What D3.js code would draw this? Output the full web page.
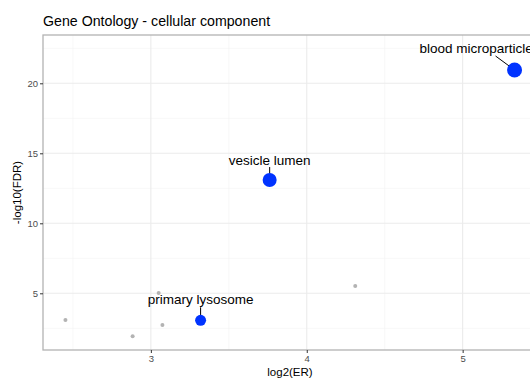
<!DOCTYPE html>
<head>
	<meta charset="utf-8">
	<script src="https://d3js.org/d3.v7.min.js"></script>
	<style>
		body { margin: 0; background: #fff; }
		text { font-family: "Liberation Sans", Arial, sans-serif; }
	</style>
</head>
<body>
<svg width="530" height="378"></svg>
<script>
	// data
	var terms = ['t1', 't2', 't3', 't4', 'primary lysosome', 't6', 'vesicle lumen', 'blood microparticle'];
	var log2ER = [2.452, 2.883, 3.05, 3.074, 3.319, 4.311, 3.762, 5.333];
	var logFDR = [3.09, 1.93, 5.02, 2.74, 3.07, 5.52, 13.09, 20.95];
	var highlighted = [false, false, false, false, true, false, true, true];
	var pointSize = [2, 2, 2, 2, 5.5, 2, 7, 7.5];
	var xTicks = [3, 4, 5];
	var yTicks = [5, 10, 15, 20];

	var margin = {top: 35, right: -7, bottom: 28, left: 43};
	var width = 530 - margin.left - margin.right, height = 378 - margin.top - margin.bottom;

	var svg = d3.select('svg');
	var g = svg.append('g').attr('transform', 'translate(' + margin.left + ',' + margin.top + ')');

	var x = d3.scaleLinear().domain([2.308, 5.477]).range([0, width]);
	var y = d3.scaleLinear().domain([0.95, 23.45]).range([height, 0]);

	/* --------- GRID ---------*/
	var minorX = [2.5, 3.5, 4.5, 5.5], minorY = [2.5, 7.5, 12.5, 17.5, 22.5];
	g.selectAll('line.minx').data(minorX).enter().append('line')
		.attr('x1', x).attr('x2', x).attr('y1', 0).attr('y2', height)
		.attr('stroke', '#f2f2f2').attr('stroke-width', 0.6);
	g.selectAll('line.miny').data(minorY).enter().append('line')
		.attr('y1', y).attr('y2', y).attr('x1', 0).attr('x2', width)
		.attr('stroke', '#f2f2f2').attr('stroke-width', 0.6);
	g.selectAll('line.majx').data(xTicks).enter().append('line')
		.attr('x1', x).attr('x2', x).attr('y1', 0).attr('y2', height)
		.attr('stroke', '#ebebeb').attr('stroke-width', 1.1);
	g.selectAll('line.majy').data(yTicks).enter().append('line')
		.attr('y1', y).attr('y2', y).attr('x1', 0).attr('x2', width)
		.attr('stroke', '#ebebeb').attr('stroke-width', 1.1);

	g.append('rect').attr('width', width).attr('height', height)
		.attr('fill', 'none').attr('stroke', '#b3b3b3').attr('stroke-width', 1.3);

	/* --------- AXES ---------*/
	var xAxis = g.append('g').attr('transform', 'translate(0,' + height + ')')
		.call(d3.axisBottom(x).tickValues(xTicks).tickFormat(d3.format('d')).tickSize(3).tickPadding(2));
	var yAxis = g.append('g')
		.call(d3.axisLeft(y).tickValues(yTicks).tickFormat(d3.format('d')).tickSize(3).tickPadding(2));
	[xAxis, yAxis].forEach(function (a) {
		a.select('.domain').remove();
		a.selectAll('line').attr('stroke', '#333').attr('stroke-width', 1);
		a.selectAll('text').attr('fill', '#4d4d4d').attr('font-size', 9.5)
			.style('font-family', '"Liberation Sans", Arial, sans-serif');
	});

	/* --------- POINTS ---------*/
	var data = terms.map(function (t, i) {
		return {term: t, x: log2ER[i], y: logFDR[i], hi: highlighted[i], r: pointSize[i]};
	});

	g.selectAll('circle.pt').data(data.filter(function (d) { return !d.hi; })).enter()
		.append('circle')
		.attr('cx', function (d) { return x(d.x); })
		.attr('cy', function (d) { return y(d.y); })
		.attr('r', function (d) { return d.r; })
		.attr('fill', '#b3b3b3');

	/* --------- LABELS ---------*/
	// label offsets relative to the point (pixels), anchor and segment
	var labelOffset = {
		'primary lysosome': {dx: 0, dy: -16, anchor: 'middle', sx: 0, sy: -13},
		'vesicle lumen': {dx: 0, dy: -15, anchor: 'middle', sx: 0, sy: -13},
		'blood microparticle': {dx: -95, dy: -17, anchor: 'start', sx: -19, sy: -14}
	};
	var hi = data.filter(function (d) { return d.hi; });

	g.selectAll('line.seg').data(hi).enter().append('line')
		.attr('x1', function (d) { return x(d.x); })
		.attr('y1', function (d) { return y(d.y); })
		.attr('x2', function (d) { return x(d.x) + labelOffset[d.term].sx; })
		.attr('y2', function (d) { return y(d.y) + labelOffset[d.term].sy; })
		.attr('stroke', '#000').attr('stroke-width', 1);

	g.selectAll('circle.hi').data(hi).enter()
		.append('circle')
		.attr('cx', function (d) { return x(d.x); })
		.attr('cy', function (d) { return y(d.y); })
		.attr('r', function (d) { return d.r; })
		.attr('fill', '#0033ff');

	g.selectAll('text.lab').data(hi).enter().append('text')
		.attr('x', function (d) { return x(d.x) + labelOffset[d.term].dx; })
		.attr('y', function (d) { return y(d.y) + labelOffset[d.term].dy; })
		.attr('text-anchor', function (d) { return labelOffset[d.term].anchor; })
		.attr('font-size', 13.5).attr('fill', '#000')
		.text(function (d) { return d.term; });

	/* --------- TITLES ---------*/
	svg.append('text').attr('x', 43).attr('y', 26).attr('font-size', 14.2).attr('fill', '#000')
		.text('Gene Ontology - cellular component');
	svg.append('text').attr('x', margin.left + width / 2).attr('y', 376)
		.attr('text-anchor', 'middle').attr('font-size', 11.5).attr('fill', '#000')
		.text('log2(ER)');
	svg.append('text').attr('transform', 'translate(21,' + (margin.top + height / 2) + ') rotate(-90)')
		.attr('text-anchor', 'middle').attr('font-size', 11.5).attr('fill', '#000')
		.text('-log10(FDR)');
</script>
</body>
